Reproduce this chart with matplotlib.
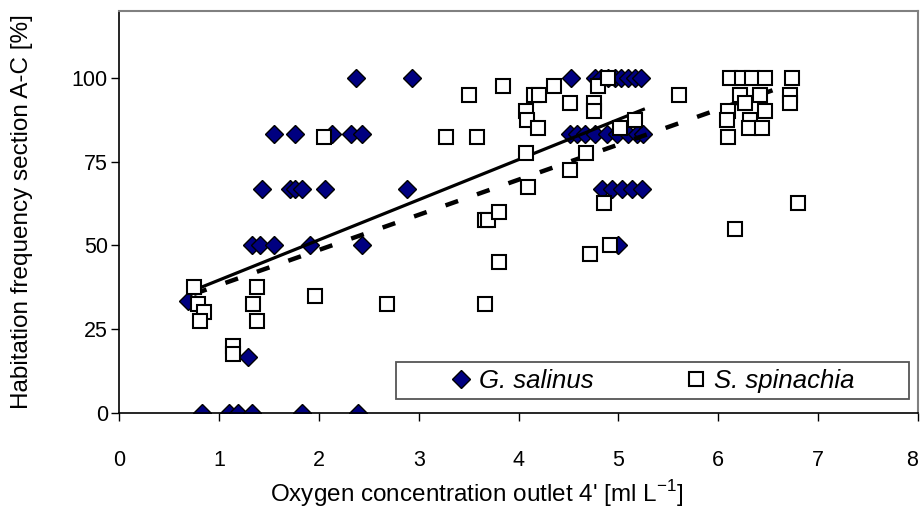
import numpy as np
import matplotlib.pyplot as plt
from matplotlib.patches import Rectangle

plt.rcParams['font.family'] = ['Liberation Sans', 'DejaVu Sans']

# G. salinus: oxygen [ml/L] vs habitation frequency [%]
gs_x = [2.37, 2.93, 4.53, 4.77, 4.83, 4.90, 4.97, 5.03, 5.10, 5.17, 5.23,
        1.55, 1.76, 2.13, 2.32, 2.43, 4.52, 4.59, 4.67, 4.77, 4.89, 4.99, 5.10, 5.19, 5.25,
        1.43, 1.71, 1.76, 1.83, 2.06, 2.88, 4.84, 4.94, 5.04, 5.14, 5.24,
        1.33, 1.41, 1.55, 1.91, 2.43, 5.00,
        0.69, 1.29,
        0.83, 1.10, 1.19, 1.33, 1.83, 2.39]
gs_y = [100] * 11 + [83.3] * 14 + [66.7] * 11 + [50] * 6 + [33.3, 16.7] + [0] * 6

# S. spinachia
ss_x = [0.75, 0.79, 0.85, 0.81, 1.38, 1.34, 1.38, 1.14, 1.14, 1.96, 2.05, 2.68,
        3.27, 3.50, 3.58, 3.66, 3.69, 3.66, 3.80, 3.80, 3.84,
        4.07, 4.08, 4.07, 4.09, 4.15, 4.20, 4.19, 4.36, 4.52, 4.52,
        4.68, 4.72, 4.76, 4.76, 4.80, 4.86, 4.90, 4.92, 5.02, 5.17,
        5.61, 6.10, 6.09, 6.10, 6.17, 6.12, 6.24, 6.34, 6.47, 6.74,
        6.22, 6.42, 6.72, 6.27, 6.72, 6.47, 6.32, 6.31, 6.44, 6.80]
ss_y = [37.5, 32.5, 30, 27.5, 37.5, 32.5, 27.5, 20, 17.5, 35, 82.5, 32.5,
        82.5, 95, 82.5, 57.5, 57.5, 32.5, 60, 45, 97.5,
        90, 87.5, 77.5, 67.5, 95, 95, 85, 97.5, 92.5, 72.5,
        77.5, 47.5, 92.5, 90, 97.5, 62.5, 100, 50, 85, 87.5,
        95, 90, 87.5, 82.5, 55, 100, 100, 100, 100, 100,
        95, 95, 95, 92.5, 92.5, 90, 87.5, 85, 85, 62.5]

# linear trend lines (slope, intercept)
gs_trend = (12.0, 27.6)
ss_trend = (10.5, 27.6)

fig = plt.figure(figsize=(9.23, 5.11), dpi=100)
ax = fig.add_axes([0.129, 0.1924, 0.8656, 0.7861])

ax.plot(gs_x, gs_y, 'D', ms=8.8, mfc='#000080', mec='black', mew=1.0,
        label='G. salinus', zorder=2)

tx = np.array([min(gs_x), max(gs_x)])
ax.plot(tx, gs_trend[0] * tx + gs_trend[1], color='black', lw=2.3, zorder=3)
tx = np.array([min(ss_x), max(ss_x)])
ax.plot(tx, ss_trend[0] * tx + ss_trend[1], color='black', lw=3.2,
        linestyle=(0, (3, 4.5)), dash_capstyle='butt', zorder=3)

ax.plot(ss_x, ss_y, 's', ms=10, mfc='white', mec='black', mew=1.5,
        label='S. spinachia', zorder=4)

ax.set_xlim(0, 8)
ax.set_ylim(0, 120)
ax.set_xticks(range(0, 9))
ax.set_yticks([0, 25, 50, 75, 100])
ax.tick_params(axis='x', direction='out', length=6, width=1, labelsize=15.5, pad=21)
ax.tick_params(axis='y', direction='out', length=6, width=1, labelsize=15.5, pad=2)
ax.get_xticklabels()[-1].set_horizontalalignment('right')
for s in ['top', 'right']:
    ax.spines[s].set_color('#808080')
    ax.spines[s].set_linewidth(1.5)
for s in ['left', 'bottom']:
    ax.spines[s].set_color('black')
    ax.spines[s].set_linewidth(1.2)

ax.set_xlabel("Oxygen concentration outlet 4' [ml L$^{\\mathregular{-1}}$]", fontsize=17.5)
ax.xaxis.set_label_coords(0.448, -0.163)
ax.set_ylabel('Habitation frequency section A-C [%]', fontsize=17.5)
ax.yaxis.set_label_coords(-0.108, 0.5)

# legend box
ax.add_patch(Rectangle((0.3467, 0.0341), 0.642, 0.092, transform=ax.transAxes,
                       facecolor='white', edgecolor='#555555', lw=1.3, zorder=5))
leg = ax.legend(loc='center', bbox_to_anchor=(0.668, 0.080), ncol=2, frameon=False,
                prop={'style': 'italic', 'size': 18.5}, handlelength=0.8,
                handletextpad=0.3, columnspacing=3.6, borderaxespad=0)
leg.set_zorder(6)

fig.savefig('out.png', dpi=100)
